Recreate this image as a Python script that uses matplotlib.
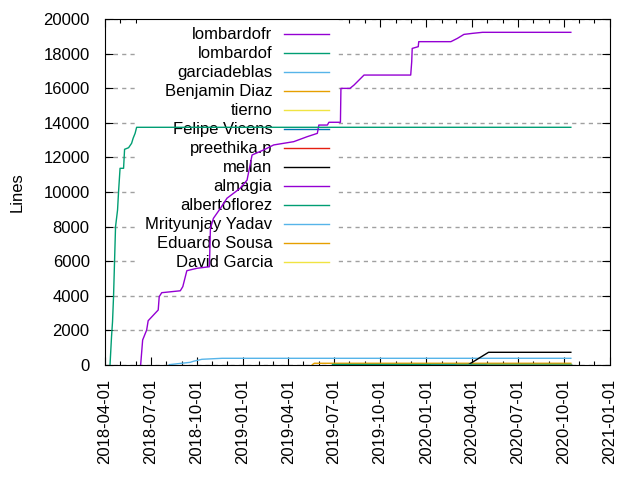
import numpy as np
import pandas as pd
import matplotlib
matplotlib.use('Agg')
import matplotlib.pyplot as plt
import matplotlib.dates as mdates

plt.rcParams['font.family'] = ['Liberation Sans', 'DejaVu Sans']
plt.rcParams['font.size'] = 12

# days are counted from this date
start = pd.Timestamp('2018-04-01')

authors = ['lombardofr', 'lombardof', 'garciadeblas', 'Benjamin Diaz', 'tierno',
           'Felipe Vicens', 'preethika.p', 'mellan', 'almagia', 'albertoflorez',
           'Mrityunjay Yadav', 'Eduardo Sousa', 'David Garcia']

# gnuplot default line colours
colors = ['#9400d3', '#009e73', '#56b4e9', '#e69f00', '#f0e442', '#0072b2',
          '#e51e10', '#000000', '#9400d3', '#009e73', '#56b4e9', '#e69f00', '#f0e442']

lombardofr_days = [71, 75, 83, 86, 106, 108, 113, 150, 155, 163, 183, 208, 210, 216, 230,
                   243, 269, 283, 293, 316, 336, 376, 403, 423, 426, 443, 446, 469, 470,
                   488, 496, 516, 609, 611, 612, 624, 625, 689, 702, 715, 732, 752, 928]
lombardofr_lines = [0, 1445, 2023, 2560, 3180, 3950, 4180, 4290, 4530, 5450, 5590, 5680, 7900,
                    8480, 9060, 9640, 10210, 10690, 12140, 12430, 12720, 12910, 13200, 13390,
                    13870, 13870, 14030, 14030, 15990, 15990, 16180, 16760, 16760, 17530,
                    18300, 18400, 18690, 18690, 18880, 19110, 19170, 19230, 19230]

lombardof_days = [10, 13, 15, 17, 19, 21, 25, 27, 30, 37, 39, 47, 53, 56, 60, 63, 928]
lombardof_lines = [0, 1636, 2503, 3948, 5971, 7994, 8960, 10017, 11370, 11370, 12468,
                   12560, 12815, 13104, 13393, 13740, 13740]

garciadeblas_days = [128, 170, 176, 193, 233, 928]
garciadeblas_lines = [20, 156, 214, 330, 387, 387]

benjamin_days = [413, 417, 928]
benjamin_lines = [20, 100, 100]

tierno_days = [500, 928]
tierno_lines = [0, 0]

felipe_days = [540, 928]
felipe_lines = [0, 0]

preethika_days = [600, 928]
preethika_lines = [0, 0]

mellan_days = [723, 764, 928]
mellan_lines = [0, 734, 734]

almagia_days = [620, 928]
almagia_lines = [0, 0]

albertoflorez_days = [453, 928]
albertoflorez_lines = [30, 30]

mrityunjay_days = [650, 928]
mrityunjay_lines = [0, 0]

eduardo_days = [700, 928]
eduardo_lines = [0, 0]

david_days = [760, 928]
david_lines = [0, 0]

series = [(lombardofr_days, lombardofr_lines), (lombardof_days, lombardof_lines),
          (garciadeblas_days, garciadeblas_lines), (benjamin_days, benjamin_lines),
          (tierno_days, tierno_lines), (felipe_days, felipe_lines),
          (preethika_days, preethika_lines), (mellan_days, mellan_lines),
          (almagia_days, almagia_lines), (albertoflorez_days, albertoflorez_lines),
          (mrityunjay_days, mrityunjay_lines), (eduardo_days, eduardo_lines),
          (david_days, david_lines)]

fig = plt.figure(figsize=(6.4, 4.8), dpi=100)
ax = fig.add_axes([105 / 640, 115 / 480, 505 / 640, 346 / 480])

for name, color, (days, lines) in zip(authors, colors, series):
    dates = start + pd.to_timedelta(days, unit='D')
    ax.plot(dates, lines, color=color, lw=1.0, label=name)

ax.set_xlim(pd.Timestamp('2018-04-01'), pd.Timestamp('2021-01-01'))
ax.set_ylim(0, 20000)
ax.set_yticks(np.arange(0, 20001, 2000))

ax.xaxis.set_major_locator(mdates.MonthLocator(bymonth=[1, 4, 7, 10]))
ax.xaxis.set_minor_locator(mdates.MonthLocator())
ax.xaxis.set_major_formatter(mdates.DateFormatter('%Y-%m-%d'))
plt.setp(ax.get_xticklabels(), rotation=90)

ax.tick_params(which='both', direction='in', top=True, right=True, width=0.8)
ax.tick_params(which='major', length=6)
ax.tick_params(which='minor', length=3)
ax.tick_params(axis='y', pad=11)
ax.tick_params(axis='x', pad=10)

# dashed grid on y only
ax.set_axisbelow(True)
ax.yaxis.grid(True, color='#a0a0a0', linestyle=(0, (3, 3)), lw=1.0)

for sp in ax.spines.values():
    sp.set_linewidth(0.8)

ax.set_ylabel('Lines')
ax.yaxis.set_label_coords(-0.16, 0.5)

leg = ax.legend(loc='upper right', bbox_to_anchor=(0.4605, 1.0), markerfirst=False,
                frameon=True, fancybox=False, edgecolor='none', framealpha=1.0,
                borderaxespad=0, borderpad=0.5, labelspacing=0.24,
                handlelength=2.7, handletextpad=0.7)
leg.set_zorder(1.5)

fig.savefig('out.png', dpi=100)
